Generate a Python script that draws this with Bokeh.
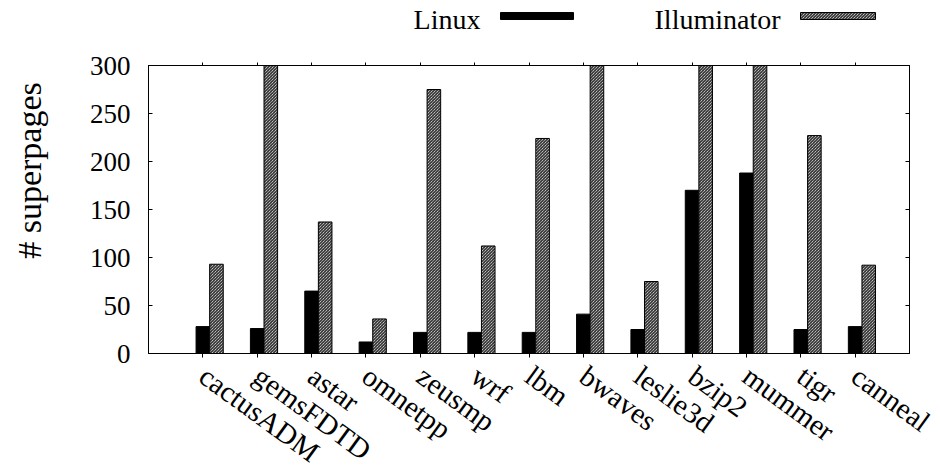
import numpy as np
from bokeh.plotting import figure
from bokeh.models import ColumnDataSource, Range1d, FixedTicker, LinearAxis
from bokeh.layouts import column, row
from bokeh.core.properties import value
from bokeh.embed import file_html
from bokeh.resources import INLINE

benchmarks = ["cactusADM", "gemsFDTD", "astar", "omnetpp", "zeusmp", "wrf", "lbm",
              "bwaves", "leslie3d", "bzip2", "mummer", "tigr", "canneal"]
linux = [28, 26, 65, 12, 22, 22, 22, 41, 25, 170, 188, 25, 28]
illuminator = [93, 300, 137, 36, 275, 112, 224, 300, 75, 300, 300, 227, 92]
y_ticks = [0, 50, 100, 150, 200, 250, 300]
series_names = ["Linux", "Illuminator"]
y_title = "# superpages"

FONT = "Liberation Serif"
BW = 0.25
YW = 50          # width of the strip holding the y-axis title

idx = np.arange(len(benchmarks))
src = ColumnDataSource(dict(x_linux=idx, x_ill=idx + BW, linux=linux, ill=illuminator))

# ---------- y-axis title strip ----------
yfig = figure(width=YW, height=472, x_range=Range1d(0, YW), y_range=Range1d(0, 472),
              x_axis_type=None, y_axis_type=None, toolbar_location=None,
              output_backend="svg", min_border=0)
yfig.outline_line_color = None
yfig.grid.visible = False
yfig.text(x=[29], y=[302], text=[y_title], angle=np.pi / 2, text_align="center",
          text_baseline="middle", text_font=value(FONT), text_font_size="34px",
          text_color="black")

# ---------- legend strip (frame aligned with the main chart's frame) ----------
LH = 38
leg = figure(frame_width=761, frame_height=LH, x_range=Range1d(148, 909),
             y_range=Range1d(LH, 0), x_axis_type=None, y_axis_type=None,
             toolbar_location=None, output_backend="svg",
             min_border_left=148 - YW, min_border_right=31, min_border_top=0,
             min_border_bottom=0)
leg.outline_line_color = None
leg.grid.visible = False
leg.text(x=[480], y=[19], text=[series_names[0]], text_align="right",
         text_baseline="middle", text_font=value(FONT), text_font_size="28px",
         text_color="black")
leg.quad(left=[500], right=[573], bottom=[19], top=[12], fill_color="black",
         line_color="black")
leg.text(x=[780], y=[19], text=[series_names[1]], text_align="right",
         text_baseline="middle", text_font=value(FONT), text_font_size="28px",
         text_color="black")
leg.quad(left=[800], right=[875], bottom=[19], top=[12], fill_color="white",
         line_color="black", hatch_pattern="\\", hatch_scale=3, hatch_weight=1,
         hatch_color="black")

# ---------- main chart ----------
p = figure(frame_width=761, frame_height=288, x_range=Range1d(-1, 13),
           y_range=Range1d(0, 300), toolbar_location=None, output_backend="svg",
           min_border_left=148 - YW, min_border_right=31, min_border_top=27,
           min_border_bottom=119)
p.grid.visible = False
p.outline_line_color = "black"

p.vbar(x="x_linux", top="linux", bottom=0, width=BW, source=src,
       fill_color="black", line_color="black")
p.vbar(x="x_ill", top="ill", bottom=0, width=BW, source=src,
       fill_color="white", line_color="black", hatch_pattern="\\",
       hatch_scale=3, hatch_weight=1, hatch_color="black")

xa = p.xaxis[0]
xa.ticker = FixedTicker(ticks=list(idx))
xa.major_label_overrides = {int(i): b for i, b in zip(idx, benchmarks)}
xa.major_label_orientation = -0.63
xa.major_label_text_font = FONT
xa.major_label_text_font_size = "29px"
xa.major_label_text_color = "black"
xa.major_label_standoff = 15
xa.major_tick_out = 4
xa.major_tick_in = 0
xa.minor_tick_line_color = None
xa.axis_line_color = "black"
xa.major_tick_line_color = "black"

ya = p.yaxis[0]
ya.ticker = FixedTicker(ticks=y_ticks)
ya.major_label_text_font = FONT
ya.major_label_text_font_size = "27px"
ya.major_label_text_color = "black"
ya.major_label_standoff = 18
ya.major_tick_in = 4
ya.major_tick_out = 0
ya.minor_tick_line_color = None
ya.axis_line_color = "black"
ya.major_tick_line_color = "black"

top_ax = LinearAxis(ticker=FixedTicker(ticks=list(idx)), major_label_text_font_size="0px",
                    major_label_text_color=None, major_tick_out=3, major_tick_in=0,
                    minor_tick_line_color=None, axis_line_color="black")
p.add_layout(top_ax, "above")
right_ax = LinearAxis(ticker=FixedTicker(ticks=y_ticks), major_label_text_font_size="0px",
                      major_label_text_color=None, major_tick_out=0, major_tick_in=4,
                      minor_tick_line_color=None, axis_line_color="black")
p.add_layout(right_ax, "right")

layout = row(yfig, column(leg, p, spacing=0), spacing=0)
open("out.html", "w").write(file_html(layout, INLINE))
